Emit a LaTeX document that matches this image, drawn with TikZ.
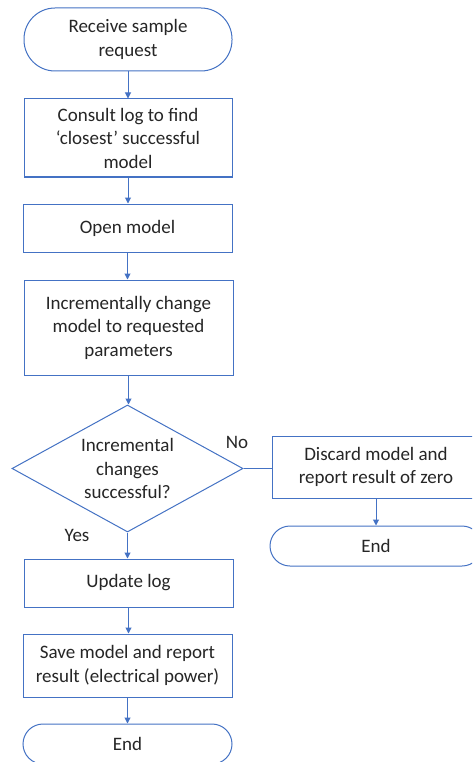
\documentclass[tikz,border=0pt]{standalone}
\usepackage{fontspec}
\setmainfont{Carlito}
\usetikzlibrary{shapes.geometric,arrows.meta}
\definecolor{ob}{HTML}{4472C4}
\definecolor{tx}{HTML}{262626}
\begin{document}
\begin{tikzpicture}[x=1pt,y=-1pt,
  box/.style={draw=ob, line width=1pt, fill=white, text=tx, align=center, inner sep=0pt,
    font=\fontsize{19}{23.5}\selectfont},
  term/.style={box, rounded corners=#1},
  dec/.style={box, diamond, shape aspect=1.8},
  lbl/.style={text=tx, inner sep=0pt, font=\fontsize{19}{23.5}\selectfont},
  arr/.style={draw=ob, line width=1pt, -{Triangle[width=6pt,length=6pt]}},
  plain/.style={draw=ob, line width=1pt}]
\useasboundingbox (0,0) rectangle (472,762);
\clip (0,0) rectangle (472,762);
\node[term=31pt, minimum width=208pt, minimum height=63pt] (start) at (128,39.5) {Receive sample\\request};
\node[box, minimum width=208pt, minimum height=78pt] (consult) at (128,138) {Consult log to find\\‘closest’ successful\\model};
\node[box, minimum width=209pt, minimum height=48pt] (open) at (127.5,228) {Open model};
\node[box, minimum width=209pt, minimum height=95pt] (incr) at (128.5,327.5) {Incrementally change\\model to requested\\parameters};
\node[dec, minimum width=231pt, minimum height=127pt] (check) at (127.5,468.5) {Incremental\\changes\\successful?};
\node[box, minimum width=208pt, minimum height=62pt] (discard) at (376,467) {Discard model and\\report result of zero};
\node[term=20pt, minimum width=212pt, minimum height=40pt] (endA) at (376,546) {End};
\node[box, minimum width=209pt, minimum height=48pt] (update) at (128.5,583) {Update log};
\node[box, minimum width=209pt, minimum height=63pt] (save) at (127.5,665.5) {Save model and report\\result (electrical power)};
\node[term=20pt, minimum width=209pt, minimum height=40pt] (endB) at (127.5,744) {End};
\node[lbl] (no) at (237,442) {No};
\node[lbl] (yes) at (77,535) {Yes};
\draw[arr] (start.south) -- (start.south |- consult.north);
\draw[arr] (consult.south) -- (consult.south |- open.north);
\draw[arr] (open.south) -- (open.south |- incr.north);
\draw[arr] (incr.south) -- (incr.south |- check.north);
\draw[plain] (check.east) -- (check.east -| discard.west);
\draw[arr] (discard.south) -- (discard.south |- endA.north);
\draw[arr] (check.south) -- (check.south |- update.north);
\draw[arr] (update.south) -- (update.south |- save.north);
\draw[arr] (save.south) -- (save.south |- endB.north);
\end{tikzpicture}
\end{document}
